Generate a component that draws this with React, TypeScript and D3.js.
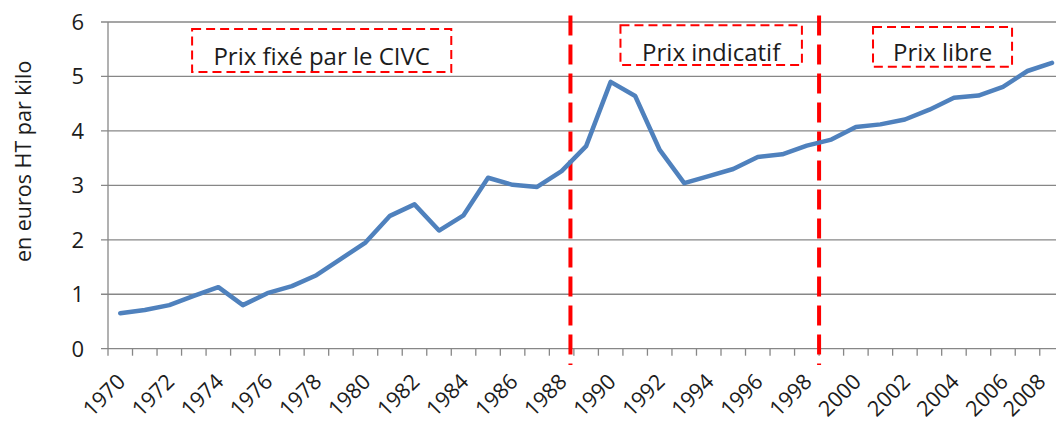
import React from 'react'
import * as d3 from 'd3'

const YEARS = d3.range(1970, 2009)
const PRICES = [
  0.65, 0.71, 0.8, 0.97, 1.13, 0.8, 1.02, 1.15, 1.35, 1.65,
  1.95, 2.44, 2.65, 2.17, 2.45, 3.14, 3.01, 2.97, 3.26, 3.72,
  4.9, 4.64, 3.65, 3.04, 3.17, 3.3, 3.52, 3.57, 3.73, 3.84,
  4.07, 4.12, 4.21, 4.39, 4.61, 4.65, 4.81, 5.1, 5.25,
]
const Y_TICKS = [0, 1, 2, 3, 4, 5, 6]
const LABEL_YEARS = YEARS.filter((y) => y % 2 === 0)

// period separators, in category units (0 = left edge of 1970)
const SEPARATORS = [18.86, 29]

// annotation boxes: x in category units, y in price units
const PERIODS = ['Prix fixé par le CIVC', 'Prix indicatif', 'Prix libre']
const PERIOD_X = [[3.43, 14.0], [20.9, 28.3], [31.2, 36.87]]
const PERIOD_Y = [[5.87, 5.08], [5.94, 5.21], [5.91, 5.18]]
const PERIOD_BASE = [5.21, 5.28, 5.28]

const W = 1056
const H = 423
const LEFT = 108
const STEP = 24.52
const FONT = "'Open Sans', 'DejaVu Sans', sans-serif"
const TEXT = '#1c1c1c'
const GRID = '#878787'

export default function App() {
  const x = d3.scaleBand<number>().domain(YEARS).range([LEFT, LEFT + STEP * YEARS.length])
  const xu = d3.scaleLinear().domain([0, YEARS.length]).range([LEFT, LEFT + STEP * YEARS.length])
  const y = d3.scaleLinear().domain([0, 6]).range([348.7, 22])
  const cx = (yr: number) => (x(yr) ?? 0) + x.bandwidth() / 2

  const line = d3
    .line<number>()
    .x((_, i) => cx(YEARS[i]))
    .y((d) => y(d))

  const right = xu(YEARS.length)

  return (
    <div>
      <style>{`body{margin:0}`}</style>
      <svg width={W} height={H} style={{ display: 'block', fontFamily: FONT }}>
        {/* grid */}
        {Y_TICKS.map((t) => (
          <g key={t}>
            <line x1={LEFT - 7} x2={right} y1={y(t)} y2={y(t)} stroke={GRID} strokeWidth={1.3} />
            <text x={84} y={y(t)} dy="0.36em" textAnchor="end" fontSize={22} fill={TEXT}>
              {t}
            </text>
          </g>
        ))}
        <line x1={LEFT} x2={LEFT} y1={y(6)} y2={y(0)} stroke={GRID} strokeWidth={1.3} />

        {/* x ticks */}
        {d3.range(0, YEARS.length + 1).map((i) => (
          <line key={i} x1={xu(i)} x2={xu(i)} y1={y(0)} y2={y(0) + 7} stroke={GRID} strokeWidth={1.3} />
        ))}
        {LABEL_YEARS.map((yr) => (
          <text
            key={yr}
            transform={`translate(${Math.min(cx(yr) + 6.5, W - 9)},383) rotate(-45)`}
            textAnchor="end"
            fontSize={21.5}
            fill={TEXT}
          >
            {yr}
          </text>
        ))}

        {/* y title */}
        <text
          transform={`translate(31,${(y(6) + y(0)) / 2 - 24}) rotate(-90)`}
          textAnchor="middle"
          fontSize={21.5}
          fill={TEXT}
        >
          en euros HT par kilo
        </text>

        {/* separators */}
        {SEPARATORS.map((s) => (
          <line
            key={s}
            x1={xu(s)}
            x2={xu(s)}
            y1={y(6.12)}
            y2={y(-0.3)}
            stroke="#ff0000"
            strokeWidth={4}
            strokeDasharray="20 9"
          />
        ))}

        {/* period boxes */}
        {PERIODS.map((p, i) => {
          const [a, b] = PERIOD_X[i]
          const [t, bt] = PERIOD_Y[i]
          return (
            <g key={p}>
              <rect
                x={xu(a)}
                y={y(t)}
                width={xu(b) - xu(a)}
                height={y(bt) - y(t)}
                fill="white"
                stroke="#ff0000"
                strokeWidth={2}
                strokeDasharray="9 5"
              />
              <text
                x={(xu(a) + xu(b)) / 2}
                y={y(PERIOD_BASE[i])}
                textAnchor="middle"
                fontSize={24}
                fill={TEXT}
              >
                {p}
              </text>
            </g>
          )
        })}

        {/* price line */}
        <path
          d={line(PRICES) ?? ''}
          fill="none"
          stroke="#4f81bd"
          strokeWidth={4.5}
          strokeLinejoin="round"
          strokeLinecap="round"
        />
      </svg>
    </div>
  )
}
